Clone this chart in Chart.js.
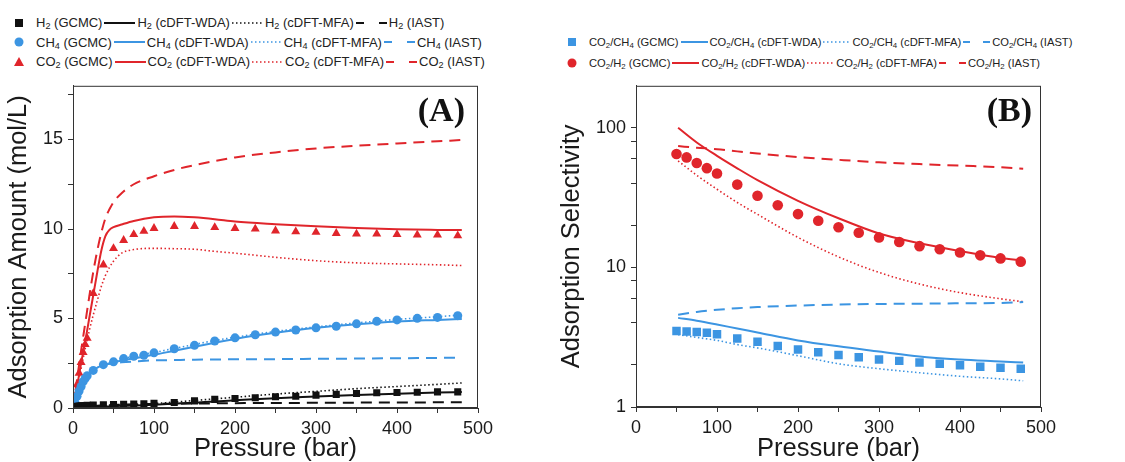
<!DOCTYPE html>
<html>
<head>
<meta charset="utf-8">
<script src="https://cdn.jsdelivr.net/npm/chart.js@4.4.1/dist/chart.umd.min.js"></script>
<style>
  html, body { margin: 0; padding: 0; background: #fff; }
  body { width: 1125px; height: 462px; position: relative; overflow: hidden;
         font-family: "Liberation Sans", Arial, sans-serif; }
  canvas { position: absolute; }
  #chartA { left: 0; top: 70px; }
  #chartB { left: 555px; top: 70px; }
  .legend { position: absolute; color: #222; }
  #legendA { left: 10px; top: 13px; font-size: 13px; }
  #legendB { left: 563px; top: 31px; font-size: 11.2px; }
  .lg-row { display: flex; align-items: center; height: 19.5px; white-space: nowrap; }
  #legendB .lg-row { height: 21px; }
  .lg-row svg { display: block; flex: none; }
  .lg-mark { margin-right: 8px; }
  .lg-line { margin: 0 2px; }
  sub { font-size: 70%; vertical-align: -0.25em; line-height: 0; }
</style>
</head>
<body>
<div class="legend" id="legendA"></div>
<div class="legend" id="legendB"></div>
<canvas id="chartA" width="540" height="392"></canvas>
<canvas id="chartB" width="570" height="392"></canvas>
<script>
// ---- panel A: adsorption amount (mol/L) vs pressure (bar) ----
const pLineA  = [0, 5, 10, 15, 20, 25, 30, 35, 40, 45, 50, 60, 75, 100, 125, 150, 175, 200, 250, 300, 350, 400, 450, 480];
const h2WdaA  = [0, 0.01, 0.02, 0.03, 0.04, 0.05, 0.06, 0.07, 0.08, 0.09, 0.1, 0.12, 0.14, 0.18, 0.24, 0.3, 0.37, 0.43, 0.55, 0.64, 0.73, 0.8, 0.86, 0.89];
const h2MfaA  = [0, 0.01, 0.02, 0.03, 0.04, 0.05, 0.06, 0.07, 0.08, 0.09, 0.1, 0.13, 0.17, 0.25, 0.33, 0.42, 0.51, 0.6, 0.78, 0.93, 1.08, 1.2, 1.32, 1.4];
const h2IastA = [0, 0.03, 0.05, 0.07, 0.09, 0.11, 0.13, 0.14, 0.15, 0.16, 0.17, 0.19, 0.21, 0.23, 0.24, 0.25, 0.26, 0.27, 0.28, 0.29, 0.3, 0.31, 0.315, 0.32];
const ch4WdaA  = [0, 0.5, 1.0, 1.5, 1.9, 2.12, 2.25, 2.35, 2.42, 2.49, 2.55, 2.65, 2.78, 2.97, 3.2, 3.42, 3.65, 3.86, 4.2, 4.48, 4.68, 4.83, 4.92, 4.97];
const ch4MfaA  = [0, 0.45, 0.95, 1.45, 1.85, 2.1, 2.25, 2.33, 2.41, 2.5, 2.58, 2.72, 2.9, 3.1, 3.33, 3.55, 3.77, 3.95, 4.28, 4.53, 4.75, 4.95, 5.1, 5.2];
const ch4IastA = [0, 0.6, 1.15, 1.6, 1.95, 2.15, 2.28, 2.36, 2.42, 2.47, 2.5, 2.55, 2.6, 2.66, 2.68, 2.7, 2.71, 2.72, 2.73, 2.75, 2.76, 2.78, 2.8, 2.81];
const co2WdaA  = [0, 1.2, 2.5, 3.7, 5.0, 6.3, 7.6, 8.8, 9.6, 9.95, 10.1, 10.25, 10.45, 10.65, 10.7, 10.65, 10.55, 10.42, 10.27, 10.15, 10.05, 9.98, 9.95, 9.94];
const co2MfaA  = [0, 1.1, 2.2, 3.3, 4.3, 5.2, 6.0, 6.8, 7.4, 7.85, 8.2, 8.65, 8.85, 8.92, 8.9, 8.87, 8.75, 8.65, 8.42, 8.23, 8.11, 8.05, 8.0, 7.96];
const co2IastA = [0, 1.6, 3.2, 4.7, 6.2, 7.6, 8.8, 9.8, 10.6, 11.1, 11.5, 12.0, 12.5, 12.95, 13.3, 13.57, 13.8, 14.0, 14.28, 14.5, 14.65, 14.78, 14.9, 14.97];

const pGcmcA   = [2.5, 5, 7.5, 10, 12.5, 15, 17.5, 25, 37.5, 50, 62.5, 75, 87.5, 100, 125, 150, 175, 200, 225, 250, 275, 300, 325, 350, 375, 400, 425, 450, 475];
const h2GcmcA  = [0.08, 0.1, 0.11, 0.12, 0.13, 0.14, 0.15, 0.17, 0.18, 0.2, 0.21, 0.22, 0.24, 0.26, 0.31, 0.4, 0.48, 0.53, 0.57, 0.63, 0.66, 0.72, 0.76, 0.81, 0.85, 0.87, 0.88, 0.9, 0.9];
const ch4GcmcA = [0.3, 0.65, 0.95, 1.2, 1.47, 1.65, 1.8, 2.1, 2.42, 2.58, 2.76, 2.89, 2.95, 3.08, 3.31, 3.5, 3.74, 3.92, 4.09, 4.24, 4.36, 4.48, 4.57, 4.7, 4.84, 4.92, 5.01, 5.06, 5.16];
const co2GcmcA = [0.65, 1.3, 1.95, 2.55, 3.1, 3.55, 3.9, 6.4, 8.0, 8.92, 9.37, 9.7, 9.88, 10.04, 10.15, 10.15, 10.09, 10.04, 10.0, 9.9, 9.85, 9.82, 9.76, 9.72, 9.72, 9.7, 9.67, 9.67, 9.63];

// ---- panel B: adsorption selectivity (log) vs pressure (bar) ----
const pLineB       = [52, 75, 100, 125, 150, 200, 250, 300, 350, 400, 450, 478];
const co2ch4WdaB   = [4.35, 4.15, 3.9, 3.65, 3.42, 3.0, 2.72, 2.5, 2.3, 2.19, 2.12, 2.08];
const co2ch4MfaB   = [3.3, 3.15, 3.0, 2.8, 2.65, 2.33, 2.04, 1.88, 1.76, 1.66, 1.59, 1.54];
const co2ch4IastB  = [4.58, 4.8, 4.97, 5.1, 5.2, 5.33, 5.42, 5.47, 5.5, 5.53, 5.56, 5.65];
const co2h2WdaB    = [100, 78.5, 63, 51.3, 42.2, 30, 22.5, 17.5, 14.9, 13.1, 11.7, 11.2];
const co2h2MfaB    = [58, 45.7, 36.3, 29.2, 24.0, 16.4, 11.9, 9.2, 7.6, 6.6, 5.96, 5.68];
const co2h2IastB   = [74, 72, 70.3, 67.8, 65.5, 61.8, 59, 56.6, 55, 53.6, 52.2, 51];

const pGcmcB       = [50, 62.5, 75, 87.5, 100, 125, 150, 175, 200, 225, 250, 275, 300, 325, 350, 375, 400, 425, 450, 475];
const co2ch4GcmcB  = [3.5, 3.48, 3.45, 3.41, 3.32, 3.09, 2.93, 2.74, 2.58, 2.47, 2.36, 2.27, 2.19, 2.14, 2.08, 2.04, 1.99, 1.94, 1.91, 1.88];
const co2h2GcmcB   = [64.9, 61.4, 56, 51.4, 47.1, 39.2, 32.6, 27.9, 24.1, 21.6, 19.4, 17.7, 16.4, 15.2, 14.2, 13.5, 12.8, 12.2, 11.6, 11.0];

const X_TICKS = [0, 50, 100, 150, 200, 250, 300, 350, 400, 450, 500];
const LOG_TICKS = [1, 2, 4, 6, 8, 10, 20, 40, 60, 80, 100];

const BLACK = '#111111';
const BLUE = '#3c95e2';
const RED = '#e0252b';
const FONT = '"Liberation Sans", Arial, sans-serif';

const DOT = [1.5, 2.5];
const DASH = [11, 7];

const SPEC_A = [
  { name: 'H<sub>2</sub>',  color: BLACK, mark: 'rect',     r: 5,   gcmc: h2GcmcA,  wda: h2WdaA,  mfa: h2MfaA,  iast: h2IastA },
  { name: 'CH<sub>4</sub>', color: BLUE,  mark: 'circle',   r: 4.5, gcmc: ch4GcmcA, wda: ch4WdaA, mfa: ch4MfaA, iast: ch4IastA },
  { name: 'CO<sub>2</sub>', color: RED,   mark: 'triangle', r: 5.2, gcmc: co2GcmcA, wda: co2WdaA, mfa: co2MfaA, iast: co2IastA },
];
const SPEC_B = [
  { name: 'CO<sub>2</sub>/CH<sub>4</sub>', color: BLUE, mark: 'rect',   r: 6,   gcmc: co2ch4GcmcB, wda: co2ch4WdaB, mfa: co2ch4MfaB, iast: co2ch4IastB },
  { name: 'CO<sub>2</sub>/H<sub>2</sub>',  color: RED,  mark: 'circle', r: 5.3, gcmc: co2h2GcmcB,  wda: co2h2WdaB,  mfa: co2h2MfaB,  iast: co2h2IastB },
];

const zip = (xs, ys) => xs.map((x, i) => ({ x, y: ys[i] }));
const plain = s => s.replace(/<\/?sub>/g, '');

function buildDatasets(spec, pGcmc, pLine) {
  const sets = [];
  spec.forEach(s => {
    const line = (key, tag, dash, width) => ({
      label: plain(s.name) + ' (' + tag + ')', data: zip(pLine, s[key]),
      borderColor: s.color, backgroundColor: s.color, borderWidth: width, borderDash: dash,
      pointRadius: 0, cubicInterpolationMode: 'monotone', fill: false
    });
    sets.push(line('iast', 'IAST', DASH, 2));
    sets.push(line('mfa', 'cDFT-MFA', DOT, 1.6));
    sets.push(line('wda', 'cDFT-WDA', [], 2));
    sets.push({
      label: plain(s.name) + ' (GCMC)', data: zip(pGcmc, s.gcmc), showLine: false,
      pointStyle: s.mark, pointRadius: s.r, pointBorderWidth: 0,
      backgroundColor: s.color, borderColor: s.color
    });
  });
  return sets;
}

function buildLegend(el, spec, w) {
  const svgLine = (color, dash, sw) =>
    `<svg class="lg-line" width="${w}" height="10"><line x1="0" y1="5" x2="${w}" y2="5" stroke="${color}" stroke-width="${sw}" stroke-dasharray="${dash}"/></svg>`;
  const svgMark = (color, mark) => {
    let shape;
    if (mark === 'rect') shape = `<rect x="5" y="4" width="8" height="8" fill="${color}"/>`;
    else if (mark === 'circle') shape = `<circle cx="9" cy="8" r="4.5" fill="${color}"/>`;
    else shape = `<polygon points="9,3 14,12 4,12" fill="${color}"/>`;
    return `<svg class="lg-mark" width="18" height="16">${shape}</svg>`;
  };
  const gap = Math.round(w * 0.26);
  el.innerHTML = spec.map(s => `
    <div class="lg-row">
      ${svgMark(s.color, s.mark)}<span>${s.name} (GCMC)</span>
      ${svgLine(s.color, '', 2)}<span>${s.name} (cDFT-WDA)</span>
      ${svgLine(s.color, '1.5 2.5', 1.6)}<span>${s.name} (cDFT-MFA)</span>
      ${svgLine(s.color, gap + ' ' + (w - 2 * gap), 2)}<span>${s.name} (IAST)</span>
    </div>`).join('');
}

// box round the plot area + the bold panel tag
const framePlugin = {
  id: 'frame',
  afterDraw(chart, args, opts) {
    const { ctx, chartArea: a } = chart;
    ctx.save();
    ctx.strokeStyle = '#333';
    ctx.lineWidth = 1;
    ctx.strokeRect(a.left + 0.5, a.top + 0.5, a.right - a.left - 1, a.bottom - a.top - 1);
    ctx.font = 'bold 34px "Liberation Serif", "Times New Roman", serif';
    ctx.fillStyle = '#111';
    ctx.textAlign = 'right';
    ctx.textBaseline = 'middle';
    ctx.fillText(opts.tag, a.right - opts.dx, a.top + 26);
    ctx.restore();
  }
};

const tickFont = { family: FONT, size: 18 };
const titleFont = { family: FONT, size: 25.5, lineHeight: 1 };
const gridOpts = { drawOnChartArea: false, tickLength: 5, tickColor: '#333', tickWidth: 1 };

function xAxis(height) {
  return {
    type: 'linear', min: 0, max: 500,
    afterBuildTicks: ax => { ax.ticks = X_TICKS.map(v => ({ value: v })); },
    afterFit: ax => { ax.height = height; },
    grid: gridOpts,
    border: { color: '#333', width: 1 },
    ticks: { font: tickFont, color: '#1a1a1a', padding: 5, autoSkip: false, maxRotation: 0,
             callback: v => v % 100 === 0 ? v : '' },
    title: { display: true, text: 'Pressure (bar)', font: titleFont, color: '#1a1a1a', padding: { top: 0, bottom: 0 } }
  };
}

function baseOptions(tag, dx, padRight) {
  return {
    responsive: false,
    animation: false,
    events: [],
    layout: { padding: { top: 12, right: padRight, bottom: 0, left: 0 } },
    plugins: { legend: { display: false }, tooltip: { enabled: false }, frame: { tag, dx } }
  };
}

buildLegend(document.getElementById('legendA'), SPEC_A, 31);
buildLegend(document.getElementById('legendB'), SPEC_B, 27);

const optsA = baseOptions('(A)', 13, 62);
optsA.scales = {
  x: xAxis(54),
  y: {
    type: 'linear', min: 0, max: 18,
    afterFit: ax => { ax.width = 73; },
    grid: gridOpts,
    border: { color: '#333', width: 1 },
    ticks: { stepSize: 2.5, includeBounds: false, font: tickFont, color: '#1a1a1a', padding: 5,
             callback: v => v % 5 === 0 ? v : '' },
    title: { display: true, text: 'Adsorption Amount (mol/L)', font: titleFont, color: '#1a1a1a', padding: { top: 6, bottom: 0 } }
  }
};

new Chart(document.getElementById('chartA'), {
  type: 'line',
  data: { datasets: buildDatasets(SPEC_A, pGcmcA, pLineA) },
  options: optsA,
  plugins: [framePlugin]
});

const optsB = baseOptions('(B)', 9, 84);
optsB.scales = {
  x: xAxis(55),
  y: {
    type: 'logarithmic', min: 1, max: 200,
    afterBuildTicks: ax => { ax.ticks = LOG_TICKS.map(v => ({ value: v })); },
    afterFit: ax => { ax.width = 81; },
    grid: gridOpts,
    border: { color: '#333', width: 1 },
    ticks: { font: tickFont, color: '#1a1a1a', padding: 5, autoSkip: false,
             callback: v => [1, 10, 100].includes(v) ? v : '' },
    title: { display: true, text: 'Adsorption Selectivity', font: titleFont, color: '#1a1a1a', padding: { top: 4, bottom: 0 } }
  }
};

new Chart(document.getElementById('chartB'), {
  type: 'line',
  data: { datasets: buildDatasets(SPEC_B, pGcmcB, pLineB) },
  options: optsB,
  plugins: [framePlugin]
});
</script>
</body>
</html>
